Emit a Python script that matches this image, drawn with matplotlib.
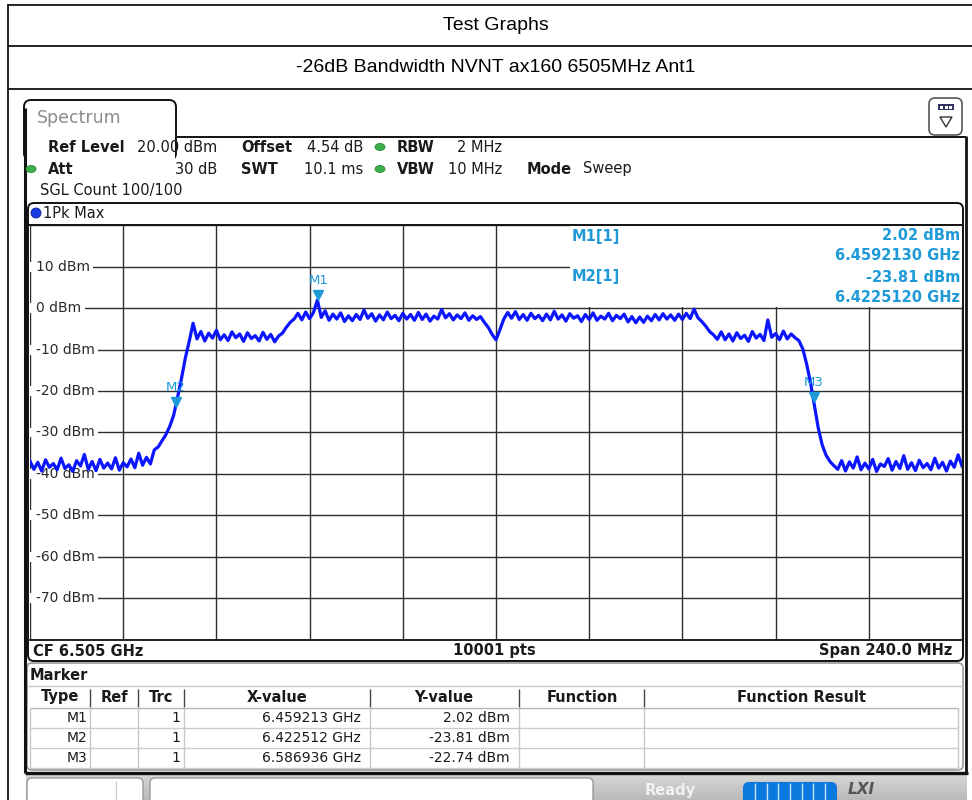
import matplotlib
matplotlib.use("Agg")
import matplotlib.pyplot as plt
import matplotlib.transforms as mtransforms
from matplotlib.patches import Rectangle, FancyBboxPatch, Ellipse, Circle, Polygon
from matplotlib.colors import LinearSegmentedColormap
import numpy as np

W, H = 972, 800

# sweep settings shown on the analyzer
center_ghz = 6.505
span_ghz = 0.240
ref_level = 20
bottom_level = -80
start_mhz = 6385  # first trace bin, bins are 1 MHz apart

# trace level per MHz bin
trace_dbm = [
    # noise floor 6385-6417
    -36.9, -38.9, -37.2, -39.3, -36.6, -38.4, -37.5, -39.0, -36.2, -38.7, -37.8,
    -39.4, -36.8, -38.1, -35.3, -38.9, -37.0, -39.2, -36.5, -38.6, -37.4, -38.8,
    -36.1, -39.1, -37.3, -38.3, -36.4, -38.5, -35.0, -37.9, -36.0, -37.6, -34.2,
    # lower edge 6418-6426
    -33.5, -32.0, -30.5, -28.5, -25.8, -21.5, -17.0, -12.0, -8.0,
    # left shoulder 6427-6449
    -3.6, -7.4, -5.6, -7.9, -6.0, -7.2, -5.3, -7.6, -6.4, -7.8, -5.7, -7.1,
    -6.2, -8.0, -5.9, -7.3, -6.6, -7.9, -5.8, -7.5, -6.3, -8.1, -6.7,
    # step up 6450-6454
    -6.0, -4.6, -3.4, -2.6, -1.2,
    # top 6455-6557
    -2.8, -0.9, -2.5, -1.0, 2.0, -2.2, -0.6, -2.9, -1.4, -2.6,
    -1.1, -3.2, -1.8, -3.0, -1.5, -2.7, -0.4, -2.4, -1.3, -3.1,
    -1.6, -2.8, -0.9, -2.5, -1.7, -3.0, -1.2, -2.6, -1.5, -2.9,
    -1.0, -2.7, -1.4, -3.1, -1.9, -2.6, -0.3, -2.3, -1.3, -2.8,
    -1.6, -2.5, -1.1, -2.9, -1.8, -2.7, -2.0, -3.4, -4.6, -6.3,
    -7.6, -5.2, -2.6, -1.0, -2.4, -0.8, -2.7, -1.5, -2.9, -1.2,
    -2.5, -1.7, -3.0, -1.4, -2.8, -0.7, -2.6, -1.6, -3.1, -1.3,
    -2.4, -1.8, -3.2, -1.5, -2.7, -1.1, -2.9, -1.9, -2.6, -1.2,
    -3.0, -1.7, -2.5, -1.4, -3.3, -2.0, -3.5, -2.1, -3.4, -1.9,
    -3.0, -1.5, -2.8, -1.3, -2.6, -1.6, -2.9, -1.4, -2.7, -1.2,
    -2.5, -0.2, -2.3,
    # step down 6558-6562
    -3.2, -4.3, -5.6, -6.4, -7.5,
    # right shoulder 6563-6582
    -5.7, -7.6, -6.2, -7.9, -5.9, -7.3, -6.5, -8.0, -5.6, -7.2,
    -6.3, -7.8, -2.8, -7.0, -6.1, -7.6, -5.5, -7.4, -6.2, -7.1,
    # upper edge 6583-6592
    -7.8, -9.8, -13.5, -18.0, -23.5, -29.0, -33.0, -35.5, -37.0, -38.0,
    # noise floor 6593-6625
    -38.9, -36.8, -39.3, -37.1, -38.6, -35.9, -39.0, -37.4, -38.8, -36.5, -39.4,
    -37.6, -38.2, -36.3, -39.1, -37.0, -38.7, -35.6, -38.9, -37.3, -39.2, -36.7,
    -38.5, -37.5, -39.0, -36.2, -38.6, -37.2, -39.3, -36.9, -38.4, -35.4, -38.1,
]
freq_ghz = (start_mhz + np.arange(len(trace_dbm))) / 1000.0

ytick_dbm = [10, 0, -10, -20, -30, -40, -50, -60, -70]

marker_names = ["M1", "M2", "M3"]
marker_freq_ghz = [6.459213, 6.422512, 6.586936]
marker_level_dbm = [2.02, -23.81, -22.74]

table_headers = ["Type", "Ref", "Trc", "X-value", "Y-value", "Function", "Function Result"]

title_1 = "Test Graphs"
title_2 = "-26dB Bandwidth NVNT ax160 6505MHz Ant1"

BLACK = "#111111"
MK = "#1f9ad8"
SANS = "DejaVu Sans"

fig = plt.figure(figsize=(W / 100, H / 100), dpi=100)

# background layer in pixel coordinates
bg = fig.add_axes([0, 0, 1, 1])
bg.set_zorder(0)
bg.axis("off")


def txt(x, y, s, **kw):
    kw.setdefault("va", "center")
    kw.setdefault("ha", "left")
    kw.setdefault("family", SANS)
    kw.setdefault("color", "#1a1a1a")
    kw.setdefault("fontsize", 10.5)
    fig.text(x / W, 1 - y / H, s, zorder=10, **kw)


def line(xs, ys, c=BLACK, lw=1.0, z=3):
    bg.plot(xs, ys, color=c, lw=lw, solid_capstyle="butt", zorder=z)


# --- report table around the screenshot ---
line([8, W], [4.5, 4.5], lw=1.3)
line([8, W], [46, 46], lw=1.3)
line([8, W], [88.5, 88.5], lw=1.3)
line([8, 8], [4, H], lw=1.3)
txt(496, 25, title_1, ha="center", family="Liberation Sans", fontsize=14, color="black")
txt(496, 68, title_2, ha="center", family="Liberation Sans", fontsize=14, color="black")

# --- analyzer window ---
tab = FancyBboxPatch((24, 100), 152, 60, boxstyle="round,pad=0,rounding_size=7",
                     fc="white", ec=BLACK, lw=1.4, zorder=2)
bg.add_patch(tab)
bg.add_patch(Rectangle((25.5, 137), 149, 30, fc="white", ec="none", zorder=2.5))
line([24.8, 24.8], [108, 773], lw=2.2, z=3)
line([175.5, 966], [136.5, 136.5], lw=1.4)
line([966, 966], [136, 773], lw=2.0)
txt(37, 118, "Spectrum", color="#8c8c8c", fontsize=12.5)

# settings icon top right
bg.add_patch(FancyBboxPatch((929, 98), 33, 37, boxstyle="round,pad=0,rounding_size=6",
                            fc="white", ec="#555555", lw=1.2, zorder=3))
bg.add_patch(Rectangle((938, 104), 16, 6, fc="#333366", ec="none", zorder=4))
for sx in [940, 944.5, 949]:
    bg.add_patch(Rectangle((sx, 105.5), 3, 3, fc="white", ec="none", zorder=5))
bg.add_patch(Polygon([(940, 117), (952, 117), (946, 127)], closed=True, fc="white",
                     ec="#333333", lw=1.0, zorder=4))

# instrument settings lines
txt(48, 147, "Ref Level", weight="bold")
txt(217, 147, "20.00 dBm", ha="right")
txt(241, 147, "Offset", weight="bold")
txt(363, 147, "4.54 dB", ha="right")
txt(397, 147, "RBW", weight="bold")
txt(502, 147, "2 MHz", ha="right")
txt(48, 169, "Att", weight="bold")
txt(217, 169, "30 dB", ha="right")
txt(241, 169, "SWT", weight="bold")
txt(363, 169, "10.1 ms", ha="right")
txt(397, 169, "VBW", weight="bold")
txt(502, 169, "10 MHz", ha="right")
txt(527, 169, "Mode", weight="bold")
txt(583, 169, "Sweep")
txt(40, 190, "SGL Count 100/100")
for cx, cy in [(380, 147), (31, 169), (380, 169)]:
    bg.add_patch(Ellipse((cx, cy), 10, 7, fc="#3cae4c", ec="#2a8a38", lw=0.6, zorder=4))

# trace box
bg.add_patch(FancyBboxPatch((28, 203), 935, 458, boxstyle="round,pad=0,rounding_size=6",
                            fc="white", ec=BLACK, lw=1.4, zorder=2))
line([28, 963], [224.5, 224.5], lw=1.4, z=4)
bg.add_patch(Circle((36, 213), 5, fc="#1a3be6", ec="#0d1f8c", lw=0.6, zorder=4))
txt(43, 213, "1Pk Max", fontsize=10.5)
txt(33, 651, "CF 6.505 GHz", weight="bold")
txt(494, 651, "10001 pts", weight="bold", ha="center")
txt(952, 651, "Span 240.0 MHz", weight="bold", ha="right")

# marker table
bg.add_patch(FancyBboxPatch((27, 663), 936, 107, boxstyle="round,pad=0,rounding_size=5",
                            fc="white", ec="#9a9a9a", lw=1.2, zorder=2))
txt(30, 675, "Marker", weight="bold", fontsize=10.5)
line([28, 962], [686, 686], c="#c8c8c8", lw=1.0)
col_edges = [30, 90, 138, 184, 370, 519, 644, 958]
head_cx = [60, 114, 161, 277, 444, 582, 801]
for x in col_edges[1:-1]:
    line([x, x], [689, 707], c="#444444", lw=1.0)
for x in col_edges:
    line([x, x], [708, 768], c="#c8c8c8", lw=1.0)
for yy in [708, 728, 748, 768]:
    line([30, 958], [yy, yy], c="#b4b4b4" if yy == 708 else "#cccccc", lw=1.0)
for cx, h in zip(head_cx, table_headers):
    txt(cx, 697, h, ha="center", weight="bold", fontsize=10.5)
for i, name in enumerate(marker_names):
    ry = 718 + 20 * i
    txt(87, ry, name, ha="right", fontsize=10)
    txt(180, ry, "1", ha="right", fontsize=10)
    txt(361, ry, f"{marker_freq_ghz[i]:.6f} GHz", ha="right", fontsize=10)
    txt(510, ry, f"{marker_level_dbm[i]:.2f} dBm", ha="right", fontsize=10)

# status bar
line([25, 968], [773, 773], lw=2.4)
grad = np.linspace(0, 1, 40).reshape(-1, 1)
cm = LinearSegmentedColormap.from_list("bar", ["#d6d6d6", "#b9b9b9"])
bg.imshow(grad, extent=(26, 966, 800, 775), cmap=cm, aspect="auto", zorder=1)
bg.add_patch(FancyBboxPatch((27, 778), 116, 30, boxstyle="round,pad=0,rounding_size=5",
                            fc="white", ec="#999999", lw=1.0, zorder=2))
line([116, 116], [781, 800], c="#cccccc")
bg.add_patch(FancyBboxPatch((150, 778), 443, 30, boxstyle="round,pad=0,rounding_size=5",
                            fc="white", ec="#999999", lw=1.0, zorder=2))
txt(645, 791, "Ready", weight="bold", color="#f2f2f2", fontsize=10.5)
bg.add_patch(FancyBboxPatch((743, 782), 94, 24, boxstyle="round,pad=0,rounding_size=6",
                            fc="#0a78dc", ec="none", zorder=3))
for sx in np.linspace(755, 825, 7):
    line([sx, sx], [783, 800], c="#cfe4f8", lw=1.0, z=4)
txt(848, 790, "LXI", weight="bold", style="italic", color="#555555", fontsize=11)

bg.set_xlim(0, W)
bg.set_ylim(H, 0)

# --- spectrum axes ---
ax = fig.add_axes([30 / W, 1 - 639.5 / H, 932 / W, 414 / H])
ax.set_zorder(1)
ax.patch.set_alpha(0)
f0 = center_ghz - span_ghz / 2
f1 = center_ghz + span_ghz / 2
ax.set_xlim(f0, f1)
ax.set_ylim(bottom_level, ref_level)
ax.set_xticks(np.linspace(f0, f1, 11))
ax.set_yticks(np.arange(bottom_level, ref_level + 1, 10))
ax.grid(True, color="#2e2e2e", lw=1.0)
ax.tick_params(length=0, labelbottom=False, labelleft=False)
for side in ["left", "right", "top"]:
    ax.spines[side].set_visible(False)
ax.spines["bottom"].set_color(BLACK)
ax.spines["bottom"].set_linewidth(1.3)

lab_tr = mtransforms.blended_transform_factory(ax.transAxes, ax.transData)
for v in ytick_dbm:
    ax.add_patch(Rectangle((0, v - 1.2), 10 / 932, 2.4, transform=lab_tr,
                           fc="white", ec="none", zorder=2.6))
    ax.text(6 / 932, v, f"{v} dBm", transform=lab_tr, ha="left", va="center",
            fontsize=10, family=SANS, color="#2a2a2a", zorder=3,
            bbox=dict(boxstyle="square,pad=0.25", fc="white", ec="none"))

ax.plot(freq_ghz, trace_dbm, color="#0b16ff", lw=2.3, zorder=4)

tip = mtransforms.offset_copy(ax.transData, fig=fig, x=0, y=3.6, units="points")
for name, f, lvl in zip(marker_names, marker_freq_ghz, marker_level_dbm):
    ax.plot([f], [lvl], marker="v", ms=7.5, color=MK, transform=tip, zorder=6)
    ax.annotate(name, (f, lvl), xytext=(0, 14), textcoords="offset points",
                ha="center", va="center", fontsize=9.5, color=MK, family=SANS, zorder=6)

# marker readout box in the top right of the grid
ax.add_patch(Rectangle(((570 - 30) / 932, (639.5 - 306.5) / 414), (962 - 570) / 932, 1,
                       transform=ax.transAxes, fc="white", ec="none", zorder=5))
txt(572, 236, "M1[1]", weight="bold", color=MK)
txt(572, 277, "M2[1]", weight="bold", color=MK)
txt(960, 236, f"{marker_level_dbm[0]:.2f} dBm", ha="right", weight="bold", color=MK)
txt(960, 256, f"{marker_freq_ghz[0]:.7f} GHz", ha="right", weight="bold", color=MK)
txt(960, 277, f"{marker_level_dbm[1]:.2f} dBm", ha="right", weight="bold", color=MK)
txt(960, 297, f"{marker_freq_ghz[1]:.7f} GHz", ha="right", weight="bold", color=MK)

fig.savefig("out.png", dpi=100)
